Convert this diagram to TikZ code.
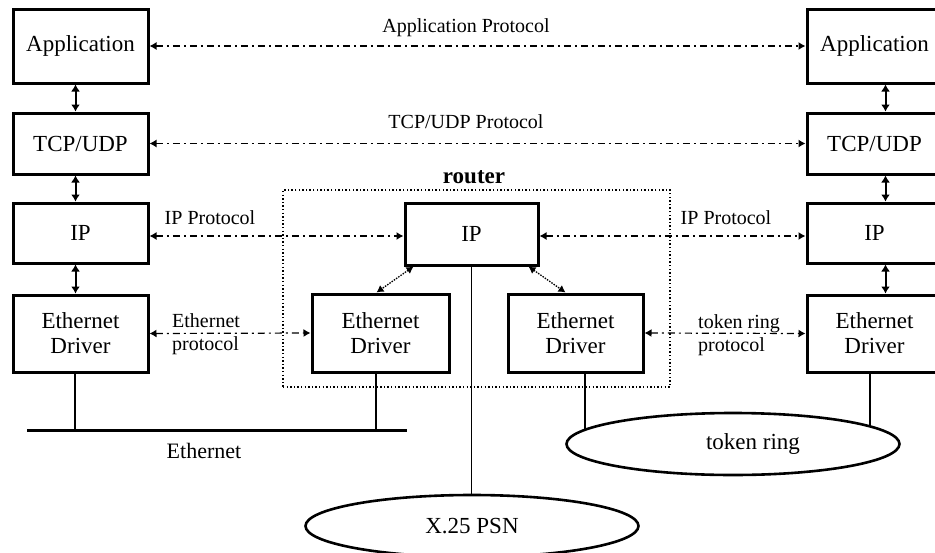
\documentclass[tikz,border=0pt]{standalone}
\usepackage{fontspec}
\setmainfont{Liberation Serif}
\usetikzlibrary{arrows.meta,shapes.geometric,backgrounds}
\tikzset{
  box/.style={draw, line width=3pt, rectangle, inner sep=0pt, align=center,
    font=\fontsize{23}{25}\selectfont},
  proto/.style={line width=1.2pt, dash pattern=on 7pt off 4pt on 2pt off 4pt,
    {Latex[length=7pt,width=8pt]}-{Latex[length=7pt,width=8pt]}},
  stack/.style={line width=2pt, {Latex[length=7pt,width=9pt]}-{Latex[length=7pt,width=9pt]}},
  rlink/.style={line width=1.3pt, dash pattern=on 1.5pt off 1.2pt,
    {Latex[length=7pt,width=8pt]}-{Latex[length=7pt,width=8pt]}},
  frame/.style={draw, line width=1.4pt, dash pattern=on 1.4pt off 2.2pt, inner sep=0pt},
  lbl/.style={font=\fontsize{20}{23}\selectfont, inner sep=0pt},
  net/.style={draw, ellipse, line width=2.6pt, fill=white, inner sep=0pt,
    minimum width=333pt, minimum height=62pt, font=\fontsize{23}{25}\selectfont},
  wire/.style={line width=1.3pt},
  bus/.style={line width=3pt}
}
\begin{document}
\begin{tikzpicture}[x=1pt,y=-1pt]
\useasboundingbox (0,0) rectangle (935,552);
% left host
\node[box, minimum width=135pt, minimum height=74pt] (appL) at (80.5,46) {Application};
\node[box, minimum width=135pt, minimum height=61pt] (tcpL) at (80.5,143.5) {TCP/UDP};
\node[box, minimum width=135pt, minimum height=60pt] (ipL) at (80.5,233) {IP};
\node[box, minimum width=135pt, minimum height=77pt] (ethL) at (80.5,333.5) {Ethernet\\Driver};
% right host
\node[box, minimum width=135pt, minimum height=74pt] (appR) at (874.5,46) {Application};
\node[box, minimum width=135pt, minimum height=61pt] (tcpR) at (874.5,143.5) {TCP/UDP};
\node[box, minimum width=135pt, minimum height=60pt] (ipR) at (874.5,233) {IP};
\node[box, minimum width=135pt, minimum height=77pt] (ethR) at (874.5,333.5) {Ethernet\\Driver};
% router
\node[frame, minimum width=387pt, minimum height=197pt] (rt) at (476.5,288.5) {};
\node[font=\fontsize{23}{25}\selectfont\bfseries, inner sep=0pt] (rtl) at (474,177) {router};
\node[box, minimum width=133pt, minimum height=62pt] (ipM) at (471.5,234) {IP};
\node[box, minimum width=137pt, minimum height=78pt] (ethM1) at (380.5,333) {Ethernet\\Driver};
\node[box, minimum width=135pt, minimum height=78pt] (ethM2) at (575.5,333) {Ethernet\\Driver};
% networks
\node[net] (tr) at (733,444) {\hspace*{40pt}token ring};
\node[net] (x25) at (472,526) {X.25 PSN};
\coordinate (busL) at (27,430);
\coordinate (busR) at (407,430);
\draw[bus] (busL) -- (busR);
\node[lbl, font=\fontsize{22}{25}\selectfont] (busT) at (204,451) {Ethernet};
% wires
\begin{scope}[on background layer]
\draw[wire] ([xshift=-5.5pt]ethL.south) -- ([xshift=-5.5pt]ethL.south |- busL);
\draw[wire] ([xshift=-4.5pt]ethM1.south) -- ([xshift=-4.5pt]ethM1.south |- busL);
\draw[wire] ([xshift=9.5pt]ethM2.south) -- ([xshift=9.5pt]ethM2.south |- tr.center);
\draw[wire] ([xshift=-4.5pt]ethR.south) -- ([xshift=-4.5pt]ethR.south |- tr.center);
\draw[wire] (ipM.south) -- (ipM.south |- x25.center);
\end{scope}
% stack arrows
\draw[stack] ([xshift=-5pt]appL.south) -- ([xshift=-5pt]tcpL.north);
\draw[stack] ([xshift=-5pt]tcpL.south) -- ([xshift=-5pt]ipL.north);
\draw[stack] ([xshift=-5pt]ipL.south) -- ([xshift=-5pt]ethL.north);
\draw[stack] ([xshift=11pt]appR.south) -- ([xshift=11pt]tcpR.north);
\draw[stack] ([xshift=11pt]tcpR.south) -- ([xshift=11pt]ipR.north);
\draw[stack] ([xshift=11pt]ipR.south) -- ([xshift=11pt]ethR.north);
% router internal links
\draw[rlink] ([xshift=10pt]ipM.south west) -- ([xshift=66pt]ethM1.north west);
\draw[rlink] ([xshift=-11pt]ipM.south east) -- ([xshift=59pt]ethM2.north west);
% protocols
\draw[proto] (appL.east) -- (appR.west);
\draw[proto] (tcpL.east) -- (tcpR.west);
\draw[proto] ([yshift=-3pt]ipL.east) -- ([yshift=-2pt]ipM.west);
\draw[proto] ([yshift=-2pt]ipM.east) -- ([yshift=-3pt]ipR.west);
\draw[proto] (ethL.east) -- (ethM1.west);
\draw[proto] (ethM2.east) -- (ethR.west);
% labels
\node[lbl] (lapp) at (466,28) {Application Protocol};
\node[lbl] (ltcp) at (466,122) {TCP/UDP Protocol};
\node[lbl] (lip1) at (210,218) {IP Protocol};
\node[lbl] (lip2) at (726,218) {IP Protocol};
\node[lbl, align=left, anchor=west] (leth) at (172,334) {Ethernet\\protocol};
\node[lbl, align=left, anchor=west] (ltok) at (698,335) {token ring\\protocol};
\end{tikzpicture}
\end{document}
